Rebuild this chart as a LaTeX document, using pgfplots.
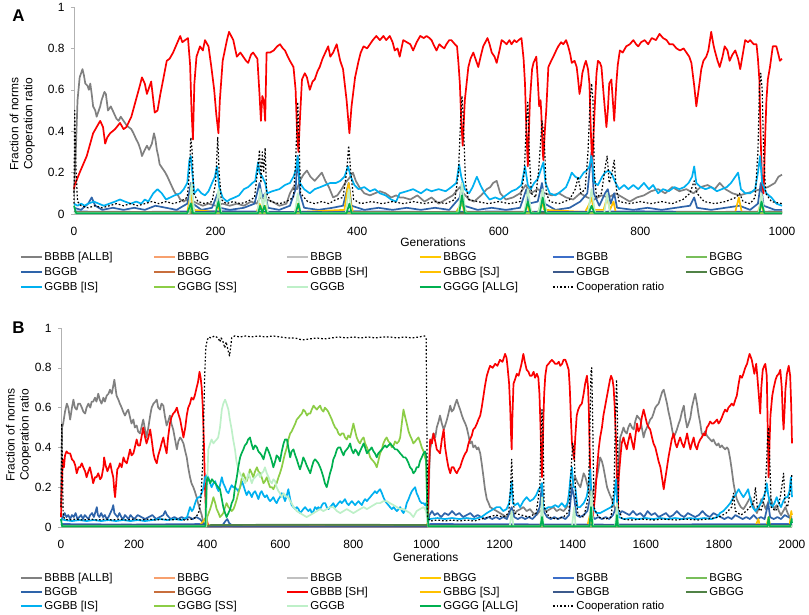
\documentclass[border=0pt]{standalone}
\usepackage{pgfplots}
\pgfplotsset{compat=1.18}
\usepackage{fontspec}
\setmainfont{Liberation Sans}
\definecolor{callb}{RGB}{128,128,128}
\definecolor{cbbbg}{RGB}{247,160,110}
\definecolor{cbbgb}{RGB}{192,192,192}
\definecolor{cbbgg}{RGB}{255,200,0}
\definecolor{cbgbb}{RGB}{60,110,200}
\definecolor{cbgbg}{RGB}{120,190,90}
\definecolor{cbggb}{RGB}{46,100,170}
\definecolor{cbggg}{RGB}{200,110,60}
\definecolor{csh}{RGB}{250,0,0}
\definecolor{csj}{RGB}{255,192,0}
\definecolor{cgbgb}{RGB}{60,90,140}
\definecolor{cgbgg}{RGB}{80,130,70}
\definecolor{cis}{RGB}{0,176,240}
\definecolor{css}{RGB}{140,205,70}
\definecolor{cgggb}{RGB}{190,240,200}
\definecolor{callg}{RGB}{0,176,80}
\newcommand\LE[1]{\makebox[107bp][l]{#1}}
\pgfplotsset{
  panel/.style={
    scale only axis, clip=false, no markers,
    axis x line*=bottom, axis y line*=left,
    axis line style={gray!60, line width=0.6bp},
    ymin=0, ymax=1, ytick={0,0.2,0.4,0.6,0.8,1},
    yticklabels={0,0.2,0.4,0.6,0.8,1},
    /pgf/number format/assume math mode=true,
    ytick style={gray!60, line width=0.6bp}, tick align=outside, major tick length=3bp,
    xtick style={draw=none},
    ticklabel style={font=\fontsize{12}{13}\selectfont},
    xticklabel style={yshift=-7bp},
    yticklabel style={xshift=-3bp},
    label style={font=\fontsize{12}{14}\selectfont},
    ylabel={Fraction of norms\\Cooperation ratio},
    xlabel={Generations},
    every axis plot/.append style={line width=1.7bp, line join=round},
    legend columns=6,
    legend image code/.code={\draw[##1, line width=2bp] (0bp,0bp) -- (21bp,0bp);},
    legend style={draw=none, fill=none, inner sep=0pt, outer sep=0pt,
      font=\fontsize{11.5}{12}\selectfont,
      nodes={inner xsep=1.5bp, inner ysep=0.5bp, anchor=west},
      /tikz/every even column/.append style={column sep=0pt}},
  },
}
\begin{document}
\begin{tikzpicture}
\path[use as bounding box] (0,0) rectangle (809bp,-615bp);
\node[font=\bfseries\fontsize{17}{17}\selectfont] at (18.5bp,-16bp) {A};
\node[font=\bfseries\fontsize{17}{17}\selectfont] at (18.5bp,-328bp) {B};
% ---------------- Panel A ----------------
\begin{axis}[panel, at={(74bp,-214bp)}, anchor=south west, width=708bp, height=207bp,
  xmin=0, xmax=1000, xtick={0,200,400,600,800,1000}, xticklabels={0,200,400,600,800,1000},
  ylabel style={at={(axis description cs:-0.073,0.435)}, anchor=center, align=center},
  xlabel style={at={(axis description cs:0.507,-0.136)}, anchor=center},
  legend style={at={(axis description cs:-0.0763,-0.183)}, anchor=north west, row sep=4bp}]
\addplot[callb] coordinates {(0,0.1)(3,0.35)(5,0.55)(8,0.66)(12,0.7)(14,0.67)(16,0.63)(19,0.62)(21,0.6)(23,0.63)(25,0.58)(27,0.52)(30,0.5)(32,0.47)(35,0.5)(37,0.52)(39,0.55)(41,0.57)(43,0.59)(45,0.58)(48,0.5)(52,0.52)(56,0.49)(60,0.46)(63,0.45)(66,0.47)(70,0.45)(74,0.43)(77,0.42)(81,0.41)(84,0.39)(88,0.36)(91,0.34)(94,0.31)(96,0.28)(100,0.31)(103,0.33)(106,0.31)(110,0.34)(113,0.39)(115,0.36)(117,0.31)(119,0.28)(121,0.24)(125,0.22)(129,0.2)(132,0.18)(136,0.15)(140,0.12)(143,0.1)(147,0.09)(150,0.07)(155,0.06)(159,0.07)(164,0.05)(169,0.06)(175,0.05)(182,0.04)(190,0.05)(200,0.04)(210,0.05)(220,0.04)(230,0.05)(240,0.04)(250,0.06)(258,0.05)(263,0.08)(272,0.07)(280,0.06)(290,0.04)(300,0.05)(305,0.1)(310,0.13)(315,0.12)(319,0.16)(324,0.19)(329,0.21)(334,0.18)(340,0.16)(345,0.18)(350,0.2)(355,0.16)(360,0.13)(366,0.08)(372,0.09)(378,0.12)(383,0.15)(388,0.17)(394,0.2)(398,0.16)(403,0.13)(410,0.1)(418,0.09)(425,0.1)(432,0.11)(440,0.1)(448,0.08)(455,0.09)(460,0.08)(465,0.08)(475,0.07)(485,0.09)(495,0.06)(505,0.08)(515,0.05)(525,0.07)(535,0.09)(545,0.13)(550,0.1)(558,0.07)(565,0.06)(575,0.09)(583,0.12)(588,0.13)(592,0.15)(597,0.16)(602,0.1)(610,0.07)(620,0.08)(630,0.1)(638,0.14)(645,0.1)(655,0.12)(665,0.1)(675,0.09)(685,0.1)(695,0.08)(705,0.07)(715,0.1)(725,0.08)(735,0.07)(745,0.09)(755,0.08)(765,0.1)(775,0.08)(785,0.06)(795,0.08)(805,0.09)(815,0.11)(825,0.12)(835,0.1)(845,0.13)(855,0.11)(865,0.12)(875,0.1)(885,0.13)(895,0.14)(905,0.12)(912,0.15)(920,0.12)(930,0.1)(940,0.09)(950,0.1)(960,0.11)(970,0.12)(980,0.13)(990,0.15)(995,0.18)(1000,0.19)};
\addlegendentry{\LE{BBBB [ALLB]}}
\addplot[cbbbg] coordinates {(0,0.004)(500,0.004)(1000,0.004)};
\addlegendentry{\LE{BBBG}}
\addplot[cbbgb] coordinates {(0,0.005)(500,0.005)(1000,0.005)};
\addlegendentry{\LE{BBGB}}
\addplot[cbbgg] coordinates {(0,0.006)(500,0.006)(1000,0.006)};
\addlegendentry{\LE{BBGG}}
\addplot[cbgbb] coordinates {(0,0.012)(100,0.01)(200,0.014)(300,0.01)(400,0.013)(500,0.01)(600,0.012)(700,0.01)(800,0.013)(900,0.01)(1000,0.012)};
\addlegendentry{\LE{BGBB}}
\addplot[cbgbg] coordinates {(0,0.004)(500,0.004)(1000,0.004)};
\addlegendentry{\LE{BGBG}}
\addplot[cbggb] coordinates {(0,0.03)(10,0.02)(20,0.05)(25,0.08)(30,0.04)(40,0.02)(55,0.03)(70,0.02)(85,0.03)(100,0.02)(115,0.04)(130,0.03)(145,0.02)(160,0.05)(165,0.15)(168,0.05)(180,0.02)(195,0.03)(203,0.1)(206,0.03)(220,0.02)(240,0.03)(255,0.05)(262,0.15)(266,0.08)(270,0.1)(274,0.03)(290,0.02)(305,0.04)(313,0.12)(316,0.28)(319,0.1)(325,0.03)(345,0.02)(365,0.03)(380,0.04)(388,0.15)(392,0.04)(410,0.02)(430,0.03)(450,0.02)(470,0.03)(490,0.02)(510,0.03)(530,0.02)(545,0.08)(548,0.15)(551,0.04)(570,0.02)(590,0.03)(610,0.02)(630,0.03)(639,0.12)(642,0.05)(655,0.06)(661,0.15)(665,0.05)(680,0.02)(700,0.03)(715,0.06)(725,0.1)(731,0.3)(734,0.1)(742,0.04)(750,0.1)(754,0.12)(758,0.05)(763,0.1)(767,0.03)(790,0.02)(810,0.03)(830,0.02)(850,0.03)(870,0.04)(876,0.08)(880,0.03)(900,0.02)(920,0.03)(940,0.04)(955,0.02)(966,0.05)(970,0.15)(974,0.04)(990,0.02)(1000,0.02)};
\addlegendentry{\LE{BGGB}}
\addplot[cbggg] coordinates {(0,0.004)(500,0.004)(1000,0.004)};
\addlegendentry{\LE{BGGG}}
\addplot[csh] coordinates {(0,0.12)(1,0.14)(8,0.2)(18,0.28)(27,0.39)(32,0.42)(37,0.45)(41,0.42)(44,0.34)(47,0.37)(51,0.39)(58,0.41)(65,0.44)(70,0.41)(74,0.42)(81,0.47)(85,0.52)(89,0.57)(93,0.62)(96,0.66)(100,0.63)(103,0.58)(105,0.6)(109,0.64)(112,0.55)(114,0.49)(118,0.5)(122,0.58)(126,0.65)(131,0.74)(135,0.75)(140,0.78)(145,0.82)(150,0.86)(153,0.83)(157,0.84)(161,0.85)(164,0.72)(166,0.5)(168,0.36)(170,0.63)(173,0.76)(178,0.81)(182,0.79)(185,0.84)(190,0.81)(194,0.71)(198,0.6)(201,0.48)(204,0.39)(206,0.55)(210,0.74)(216,0.84)(219,0.88)(225,0.84)(230,0.76)(235,0.78)(239,0.76)(243,0.74)(246,0.73)(250,0.77)(253,0.78)(259,0.75)(262,0.58)(264,0.45)(266,0.57)(268,0.55)(270,0.45)(272,0.78)(277,0.78)(282,0.79)(287,0.81)(291,0.82)(295,0.8)(298,0.79)(302,0.76)(305,0.74)(310,0.71)(313,0.6)(315,0.4)(317,0.3)(319,0.45)(322,0.65)(326,0.68)(329,0.66)(333,0.6)(337,0.64)(340,0.65)(344,0.69)(347,0.71)(351,0.75)(355,0.78)(359,0.81)(362,0.76)(366,0.78)(371,0.82)(376,0.74)(380,0.7)(385,0.55)(389,0.39)(392,0.52)(397,0.66)(402,0.74)(405,0.78)(409,0.81)(414,0.8)(418,0.82)(422,0.84)(427,0.86)(432,0.84)(437,0.86)(441,0.84)(446,0.86)(450,0.83)(453,0.79)(457,0.8)(460,0.76)(465,0.84)(470,0.83)(475,0.82)(479,0.79)(484,0.83)(489,0.86)(494,0.85)(498,0.86)(502,0.85)(505,0.84)(509,0.81)(512,0.79)(516,0.82)(519,0.81)(523,0.8)(526,0.82)(530,0.84)(533,0.84)(538,0.82)(541,0.81)(543,0.73)(545,0.63)(547,0.45)(549,0.33)(552,0.55)(557,0.71)(560,0.75)(564,0.78)(568,0.74)(571,0.71)(575,0.77)(578,0.81)(584,0.85)(587,0.82)(590,0.78)(594,0.76)(597,0.73)(601,0.79)(604,0.84)(608,0.83)(611,0.82)(615,0.84)(618,0.82)(622,0.84)(625,0.83)(628,0.84)(632,0.85)(635,0.75)(637,0.63)(639,0.4)(641,0.23)(643,0.45)(644,0.55)(647,0.7)(649,0.73)(653,0.76)(655,0.65)(657,0.52)(659,0.55)(660,0.49)(662,0.3)(663,0.26)(665,0.4)(667,0.5)(670,0.71)(674,0.74)(677,0.76)(681,0.79)(684,0.81)(688,0.83)(691,0.82)(695,0.84)(698,0.81)(701,0.77)(703,0.73)(707,0.74)(710,0.71)(712,0.65)(714,0.58)(716,0.62)(718,0.68)(721,0.72)(723,0.74)(726,0.7)(728,0.63)(730,0.4)(732,0.23)(734,0.4)(736,0.55)(738,0.68)(740,0.74)(743,0.73)(745,0.71)(748,0.58)(750,0.5)(752,0.42)(754,0.5)(756,0.63)(759,0.65)(761,0.55)(763,0.45)(766,0.63)(768,0.72)(771,0.79)(775,0.78)(780,0.81)(785,0.82)(790,0.84)(794,0.82)(797,0.81)(801,0.83)(806,0.84)(811,0.82)(816,0.85)(822,0.84)(827,0.87)(832,0.85)(837,0.84)(841,0.82)(846,0.82)(851,0.8)(856,0.79)(861,0.8)(865,0.78)(869,0.76)(872,0.73)(876,0.62)(879,0.52)(883,0.62)(886,0.7)(889,0.74)(893,0.76)(896,0.79)(900,0.88)(903,0.82)(905,0.79)(909,0.74)(912,0.71)(916,0.76)(919,0.81)(923,0.79)(926,0.74)(930,0.77)(934,0.79)(938,0.75)(941,0.7)(945,0.78)(948,0.84)(952,0.83)(955,0.84)(960,0.82)(964,0.82)(966,0.75)(968,0.65)(970,0.35)(972,0.15)(974,0.1)(976,0.35)(978,0.55)(980,0.65)(983,0.71)(987,0.81)(992,0.81)(995,0.77)(997,0.74)(1000,0.75)};
\addlegendentry{\LE{GBBB [SH]}}
\addplot[csj] coordinates {(0,0.01)(160,0.01)(164,0.08)(166,0.1)(168,0.02)(200,0.01)(203,0.05)(206,0.01)(258,0.01)(262,0.05)(266,0.02)(270,0.04)(273,0.01)(312,0.01)(316,0.05)(319,0.01)(382,0.02)(386,0.12)(388,0.15)(391,0.05)(394,0.01)(540,0.01)(545,0.04)(548,0.06)(551,0.01)(636,0.01)(640,0.05)(643,0.01)(657,0.01)(661,0.06)(664,0.02)(722,0.01)(728,0.05)(731,0.08)(734,0.02)(748,0.02)(753,0.08)(757,0.02)(762,0.06)(765,0.01)(934,0.01)(939,0.08)(943,0.01)(966,0.01)(970,0.05)(974,0.01)(1000,0.01)};
\addlegendentry{\LE{GBBG [SJ]}}
\addplot[cgbgb] coordinates {(0,0.008)(250,0.01)(500,0.008)(750,0.01)(1000,0.008)};
\addlegendentry{\LE{GBGB}}
\addplot[cgbgg] coordinates {(0,0.004)(500,0.004)(1000,0.004)};
\addlegendentry{\LE{GBGG}}
\addplot[cis] coordinates {(0,0.05)(5,0.04)(10,0.05)(15,0.04)(20,0.05)(28,0.06)(35,0.05)(42,0.04)(50,0.05)(58,0.06)(65,0.07)(72,0.06)(80,0.05)(88,0.06)(95,0.05)(100,0.07)(105,0.06)(112,0.1)(118,0.12)(124,0.1)(130,0.07)(136,0.08)(142,0.09)(150,0.1)(155,0.12)(160,0.15)(163,0.26)(165,0.28)(167,0.2)(170,0.1)(175,0.12)(180,0.1)(185,0.09)(190,0.11)(195,0.15)(199,0.18)(202,0.23)(205,0.13)(210,0.08)(216,0.06)(220,0.07)(227,0.08)(233,0.09)(240,0.12)(246,0.13)(252,0.15)(256,0.16)(260,0.25)(262,0.2)(266,0.18)(270,0.15)(273,0.1)(280,0.11)(290,0.12)(298,0.14)(305,0.15)(310,0.18)(314,0.22)(316,0.28)(319,0.15)(325,0.12)(333,0.1)(340,0.12)(348,0.13)(355,0.14)(362,0.15)(370,0.15)(376,0.16)(382,0.18)(387,0.23)(391,0.18)(396,0.14)(402,0.12)(410,0.13)(418,0.11)(425,0.12)(432,0.1)(440,0.09)(448,0.07)(455,0.06)(460,0.1)(470,0.11)(479,0.12)(490,0.1)(498,0.12)(505,0.11)(515,0.12)(525,0.11)(533,0.13)(540,0.15)(544,0.24)(547,0.18)(552,0.12)(558,0.1)(563,0.13)(569,0.18)(574,0.14)(580,0.1)(587,0.07)(595,0.08)(602,0.07)(610,0.09)(618,0.11)(625,0.12)(632,0.14)(637,0.23)(641,0.14)(645,0.12)(650,0.15)(655,0.17)(660,0.22)(663,0.25)(666,0.15)(672,0.1)(680,0.09)(688,0.11)(695,0.13)(700,0.17)(703,0.2)(708,0.18)(714,0.17)(720,0.2)(724,0.21)(728,0.23)(731,0.28)(735,0.15)(740,0.14)(746,0.18)(750,0.2)(755,0.21)(760,0.19)(765,0.15)(770,0.12)(777,0.14)(783,0.12)(790,0.14)(797,0.12)(805,0.15)(812,0.12)(818,0.14)(825,0.1)(832,0.12)(840,0.11)(848,0.13)(855,0.12)(862,0.13)(868,0.15)(873,0.18)(876,0.23)(879,0.15)(885,0.13)(892,0.12)(900,0.13)(908,0.11)(915,0.12)(922,0.13)(928,0.15)(934,0.18)(938,0.2)(942,0.12)(948,0.1)(955,0.1)(962,0.12)(966,0.2)(969,0.28)(972,0.15)(978,0.1)(985,0.08)(992,0.05)(1000,0.04)};
\addlegendentry{\LE{GGBB [IS]}}
\addplot[css] coordinates {(0,0.005)(164,0.005)(167,0.05)(170,0.005)(540,0.005)(548,0.05)(555,0.005)(655,0.005)(662,0.07)(668,0.005)(1000,0.005)};
\addlegendentry{\LE{GGBG [SS]}}
\addplot[cgggb] coordinates {(0,0.005)(162,0.005)(166,0.15)(170,0.005)(200,0.005)(204,0.12)(208,0.005)(259,0.005)(263,0.12)(267,0.03)(270,0.1)(274,0.005)(312,0.005)(316,0.1)(320,0.005)(384,0.005)(388,0.12)(392,0.005)(543,0.005)(548,0.15)(553,0.005)(636,0.005)(641,0.12)(646,0.005)(656,0.005)(662,0.12)(667,0.005)(726,0.005)(731,0.12)(736,0.005)(749,0.005)(753,0.1)(757,0.005)(967,0.005)(971,0.1)(975,0.005)(1000,0.005)};
\addlegendentry{\LE{GGGB}}
\addplot[callg] coordinates {(0,0.04)(3,0.004)(160,0.004)(165,0.05)(168,0.004)(200,0.004)(204,0.06)(207,0.004)(260,0.004)(263,0.04)(266,0.004)(269,0.04)(272,0.004)(313,0.004)(317,0.05)(320,0.004)(385,0.004)(389,0.05)(392,0.004)(544,0.004)(548,0.09)(552,0.004)(637,0.004)(641,0.06)(645,0.004)(658,0.004)(662,0.08)(666,0.004)(727,0.004)(731,0.04)(735,0.004)(968,0.004)(971,0.06)(975,0.004)(1000,0.004)};
\addlegendentry{\LE{GGGG [ALLG]}}
\addplot[black, dotted, line width=1.2bp] coordinates {(0,0.05)(1,0.5)(3,0.2)(5,0.06)(10,0.04)(20,0.03)(30,0.04)(40,0.03)(50,0.04)(60,0.05)(70,0.04)(80,0.05)(90,0.04)(100,0.05)(110,0.06)(120,0.05)(130,0.06)(140,0.05)(150,0.06)(160,0.08)(163,0.2)(165,0.37)(167,0.3)(169,0.1)(175,0.06)(185,0.05)(195,0.06)(200,0.15)(203,0.37)(205,0.2)(208,0.07)(215,0.05)(225,0.06)(235,0.05)(245,0.06)(255,0.08)(259,0.2)(262,0.31)(264,0.15)(266,0.3)(268,0.2)(270,0.32)(272,0.1)(278,0.06)(290,0.05)(300,0.06)(310,0.08)(313,0.25)(316,0.54)(318,0.35)(320,0.1)(330,0.06)(340,0.05)(350,0.06)(360,0.05)(370,0.07)(380,0.08)(385,0.2)(388,0.33)(391,0.2)(395,0.07)(405,0.05)(420,0.06)(435,0.05)(450,0.06)(465,0.05)(480,0.06)(495,0.05)(510,0.06)(525,0.05)(538,0.07)(543,0.2)(546,0.45)(548,0.57)(550,0.45)(553,0.15)(557,0.07)(570,0.06)(585,0.05)(600,0.06)(615,0.05)(630,0.06)(636,0.2)(639,0.45)(641,0.54)(643,0.3)(646,0.1)(652,0.08)(656,0.2)(659,0.35)(661,0.45)(663,0.4)(665,0.3)(667,0.1)(672,0.06)(685,0.05)(700,0.07)(708,0.12)(712,0.18)(716,0.1)(722,0.12)(726,0.3)(729,0.55)(731,0.63)(733,0.55)(735,0.2)(738,0.08)(745,0.1)(750,0.22)(753,0.28)(756,0.15)(760,0.2)(763,0.26)(766,0.12)(770,0.06)(785,0.05)(800,0.06)(815,0.05)(830,0.06)(845,0.05)(860,0.07)(870,0.1)(876,0.16)(880,0.1)(890,0.06)(905,0.05)(920,0.06)(935,0.08)(940,0.1)(945,0.06)(955,0.05)(962,0.08)(966,0.3)(968,0.6)(970,0.68)(972,0.6)(974,0.3)(977,0.1)(985,0.06)(1000,0.05)};
\addlegendentry{\LE{Cooperation ratio}}
\end{axis}
% ---------------- Panel B ----------------
\begin{axis}[panel, at={(61bp,-527bp)}, anchor=south west, width=731bp, height=199bp,
  xmin=0, xmax=2000, xtick={0,200,...,2000}, xticklabels={0,200,400,600,800,1000,1200,1400,1600,1800,2000},
  ylabel style={at={(axis description cs:-0.058,0.462)}, anchor=center, align=center},
  xlabel style={at={(axis description cs:0.499,-0.151)}, anchor=center},
  legend style={at={(axis description cs:-0.0561,-0.23)}, anchor=north west, row sep=3.2bp}]
\addplot[callb] coordinates {(0,0.1)(3,0.5)(6,0.52)(11,0.58)(16,0.62)(20,0.6)(25,0.54)(30,0.6)(34,0.64)(38,0.6)(43,0.59)(47,0.62)(52,0.62)(57,0.6)(61,0.58)(66,0.57)(70,0.6)(75,0.62)(80,0.6)(84,0.63)(88,0.63)(93,0.65)(97,0.63)(102,0.67)(106,0.64)(111,0.62)(116,0.65)(120,0.63)(125,0.66)(130,0.67)(134,0.69)(139,0.67)(143,0.71)(146,0.74)(149,0.7)(152,0.66)(157,0.64)(161,0.62)(166,0.6)(170,0.58)(175,0.56)(180,0.58)(184,0.59)(189,0.55)(193,0.52)(198,0.54)(202,0.5)(207,0.51)(211,0.48)(216,0.47)(220,0.5)(225,0.54)(229,0.5)(234,0.45)(239,0.5)(244,0.56)(248,0.6)(253,0.62)(258,0.63)(262,0.64)(266,0.6)(271,0.59)(275,0.62)(280,0.61)(284,0.56)(289,0.51)(293,0.53)(298,0.56)(302,0.52)(307,0.49)(312,0.44)(317,0.39)(321,0.43)(326,0.45)(330,0.44)(335,0.42)(340,0.38)(344,0.35)(348,0.3)(353,0.25)(357,0.22)(362,0.2)(366,0.18)(371,0.15)(375,0.12)(380,0.09)(385,0.06)(390,0.02)(395,0.004)(1004,0.004)(1008,0.3)(1010,0.39)(1015,0.44)(1019,0.47)(1024,0.45)(1028,0.5)(1033,0.53)(1037,0.56)(1042,0.52)(1047,0.49)(1051,0.51)(1056,0.54)(1060,0.57)(1065,0.61)(1069,0.58)(1074,0.59)(1079,0.62)(1083,0.64)(1088,0.61)(1092,0.59)(1097,0.56)(1101,0.54)(1106,0.52)(1110,0.5)(1115,0.46)(1119,0.42)(1124,0.43)(1128,0.4)(1133,0.41)(1138,0.39)(1142,0.4)(1147,0.37)(1151,0.32)(1156,0.25)(1160,0.19)(1165,0.14)(1170,0.12)(1174,0.1)(1183,0.09)(1192,0.08)(1201,0.07)(1210,0.06)(1219,0.05)(1228,0.07)(1238,0.06)(1247,0.08)(1257,0.09)(1265,0.1)(1274,0.08)(1283,0.09)(1292,0.07)(1301,0.06)(1310,0.08)(1320,0.09)(1329,0.08)(1338,0.09)(1347,0.1)(1356,0.08)(1365,0.09)(1375,0.08)(1384,0.1)(1393,0.2)(1400,0.22)(1407,0.25)(1414,0.22)(1421,0.2)(1430,0.27)(1435,0.25)(1439,0.22)(1446,0.17)(1452,0.15)(1458,0.2)(1466,0.25)(1471,0.3)(1475,0.35)(1480,0.33)(1484,0.3)(1489,0.25)(1494,0.2)(1500,0.17)(1507,0.14)(1514,0.1)(1521,0.07)(1525,0.3)(1530,0.45)(1534,0.47)(1539,0.5)(1543,0.48)(1548,0.47)(1552,0.5)(1557,0.52)(1562,0.5)(1567,0.49)(1571,0.53)(1576,0.56)(1580,0.55)(1585,0.54)(1589,0.5)(1594,0.45)(1598,0.48)(1603,0.5)(1608,0.52)(1612,0.54)(1617,0.55)(1621,0.57)(1626,0.6)(1630,0.61)(1635,0.62)(1640,0.65)(1645,0.68)(1649,0.69)(1653,0.66)(1658,0.62)(1662,0.58)(1667,0.54)(1671,0.5)(1676,0.45)(1681,0.47)(1685,0.49)(1690,0.52)(1694,0.54)(1699,0.58)(1704,0.61)(1708,0.55)(1713,0.5)(1717,0.52)(1722,0.55)(1726,0.6)(1731,0.64)(1735,0.67)(1740,0.62)(1744,0.57)(1749,0.52)(1753,0.47)(1758,0.46)(1762,0.48)(1767,0.46)(1771,0.45)(1776,0.44)(1781,0.43)(1785,0.44)(1790,0.42)(1794,0.41)(1799,0.42)(1803,0.4)(1808,0.41)(1812,0.4)(1817,0.39)(1822,0.4)(1826,0.39)(1831,0.34)(1835,0.29)(1840,0.22)(1845,0.17)(1849,0.14)(1854,0.12)(1860,0.1)(1867,0.09)(1874,0.11)(1880,0.13)(1886,0.15)(1892,0.12)(1898,0.09)(1904,0.07)(1910,0.1)(1916,0.14)(1922,0.12)(1928,0.09)(1934,0.12)(1940,0.15)(1946,0.12)(1952,0.09)(1958,0.11)(1964,0.08)(1970,0.06)(1976,0.08)(1982,0.1)(1988,0.07)(1994,0.05)(2000,0.05)};
\addlegendentry{\LE{BBBB [ALLB]}}
\addplot[cbbbg] coordinates {(0,0.004)(1000,0.004)(2000,0.004)};
\addlegendentry{\LE{BBBG}}
\addplot[cbbgb] coordinates {(0,0.005)(1000,0.005)(2000,0.005)};
\addlegendentry{\LE{BBGB}}
\addplot[cbbgg] coordinates {(0,0.006)(1000,0.006)(2000,0.006)};
\addlegendentry{\LE{BBGG}}
\addplot[cbgbb] coordinates {(0,0.015)(200,0.012)(390,0.015)(400,0.004)(1000,0.004)(1010,0.015)(1500,0.012)(2000,0.015)};
\addlegendentry{\LE{BGBB}}
\addplot[cbgbg] coordinates {(0,0.004)(1000,0.004)(2000,0.004)};
\addlegendentry{\LE{BGBG}}
\addplot[cbggb] coordinates {(0,0.03)(5,0.05)(10,0.07)(15,0.05)(20,0.06)(25,0.04)(30,0.06)(35,0.05)(40,0.07)(45,0.04)(50,0.05)(55,0.06)(60,0.04)(65,0.06)(70,0.05)(75,0.04)(80,0.06)(85,0.07)(90,0.05)(95,0.08)(98,0.1)(101,0.06)(105,0.05)(110,0.07)(115,0.05)(120,0.06)(125,0.04)(130,0.05)(135,0.07)(140,0.09)(143,0.11)(146,0.07)(150,0.06)(155,0.05)(160,0.07)(165,0.05)(170,0.04)(175,0.06)(180,0.05)(185,0.04)(190,0.06)(195,0.05)(200,0.04)(210,0.06)(220,0.05)(230,0.04)(240,0.05)(250,0.06)(260,0.04)(270,0.05)(280,0.06)(285,0.08)(290,0.06)(300,0.04)(310,0.05)(320,0.04)(330,0.05)(340,0.04)(350,0.05)(360,0.04)(370,0.05)(380,0.04)(390,0.02)(400,0.004)(440,0.004)(450,0.03)(455,0.04)(460,0.02)(470,0.004)(1003,0.004)(1008,0.06)(1015,0.08)(1022,0.06)(1030,0.07)(1040,0.05)(1050,0.07)(1060,0.06)(1070,0.08)(1080,0.06)(1090,0.07)(1100,0.05)(1110,0.06)(1120,0.07)(1130,0.05)(1140,0.06)(1150,0.05)(1160,0.04)(1170,0.05)(1180,0.04)(1190,0.05)(1200,0.04)(1210,0.05)(1220,0.04)(1233,0.1)(1240,0.05)(1250,0.04)(1260,0.05)(1270,0.04)(1280,0.05)(1290,0.04)(1300,0.06)(1310,0.1)(1316,0.22)(1320,0.08)(1330,0.05)(1340,0.04)(1350,0.05)(1360,0.04)(1370,0.05)(1380,0.04)(1390,0.06)(1398,0.2)(1404,0.15)(1410,0.06)(1420,0.05)(1430,0.06)(1440,0.08)(1448,0.15)(1453,0.06)(1460,0.04)(1470,0.05)(1480,0.04)(1490,0.05)(1500,0.04)(1510,0.06)(1519,0.1)(1525,0.06)(1535,0.08)(1545,0.07)(1555,0.06)(1565,0.08)(1575,0.06)(1585,0.07)(1595,0.05)(1605,0.08)(1615,0.06)(1625,0.07)(1635,0.05)(1645,0.06)(1655,0.07)(1665,0.05)(1675,0.06)(1685,0.08)(1695,0.06)(1705,0.05)(1715,0.07)(1725,0.06)(1735,0.05)(1745,0.06)(1755,0.08)(1765,0.06)(1775,0.05)(1785,0.07)(1795,0.06)(1805,0.05)(1815,0.04)(1825,0.05)(1835,0.04)(1845,0.06)(1855,0.05)(1865,0.04)(1875,0.05)(1885,0.04)(1895,0.06)(1905,0.04)(1915,0.05)(1925,0.04)(1935,0.12)(1940,0.05)(1950,0.04)(1960,0.05)(1970,0.04)(1980,0.06)(1990,0.05)(2000,0.04)};
\addlegendentry{\LE{BGGB}}
\addplot[cbggg] coordinates {(0,0.004)(1000,0.004)(2000,0.004)};
\addlegendentry{\LE{BGGG}}
\addplot[csh] coordinates {(0,0.05)(2,0.2)(5,0.34)(8,0.3)(11,0.36)(15,0.38)(20,0.37)(25,0.37)(30,0.34)(35,0.33)(39,0.31)(43,0.27)(48,0.3)(52,0.3)(57,0.32)(61,0.3)(66,0.28)(70,0.25)(75,0.28)(79,0.3)(84,0.26)(88,0.22)(93,0.25)(97,0.25)(102,0.27)(107,0.24)(111,0.25)(116,0.3)(118,0.35)(122,0.31)(127,0.28)(131,0.3)(135,0.32)(139,0.28)(143,0.25)(146,0.18)(148,0.15)(151,0.22)(154,0.29)(158,0.3)(161,0.32)(166,0.3)(171,0.35)(175,0.33)(180,0.32)(184,0.35)(189,0.39)(193,0.36)(198,0.37)(202,0.4)(207,0.44)(211,0.41)(216,0.41)(220,0.45)(225,0.5)(229,0.46)(234,0.42)(239,0.45)(244,0.49)(248,0.44)(253,0.37)(257,0.34)(262,0.32)(266,0.36)(271,0.39)(275,0.42)(280,0.45)(284,0.41)(289,0.37)(293,0.45)(298,0.52)(302,0.55)(307,0.57)(312,0.58)(317,0.6)(321,0.57)(326,0.54)(330,0.5)(335,0.45)(340,0.5)(344,0.56)(348,0.6)(353,0.62)(357,0.65)(362,0.64)(366,0.66)(371,0.7)(375,0.73)(379,0.78)(382,0.75)(385,0.7)(388,0.6)(391,0.42)(394,0.2)(397,0.05)(403,0.004)(1003,0.004)(1007,0.3)(1010,0.44)(1015,0.42)(1019,0.47)(1024,0.43)(1028,0.39)(1033,0.38)(1037,0.37)(1042,0.44)(1047,0.49)(1051,0.4)(1056,0.34)(1060,0.3)(1065,0.27)(1069,0.3)(1074,0.3)(1079,0.28)(1083,0.27)(1088,0.29)(1092,0.3)(1097,0.33)(1101,0.35)(1106,0.37)(1110,0.38)(1115,0.42)(1119,0.44)(1124,0.46)(1128,0.49)(1133,0.5)(1138,0.52)(1142,0.54)(1147,0.56)(1151,0.6)(1156,0.66)(1160,0.71)(1165,0.76)(1170,0.79)(1174,0.81)(1181,0.8)(1188,0.82)(1194,0.81)(1201,0.84)(1208,0.83)(1215,0.87)(1219,0.85)(1222,0.8)(1226,0.72)(1229,0.6)(1231,0.48)(1233,0.39)(1235,0.55)(1238,0.72)(1242,0.74)(1247,0.77)(1252,0.76)(1256,0.79)(1260,0.82)(1265,0.87)(1269,0.83)(1274,0.79)(1279,0.78)(1283,0.76)(1288,0.76)(1293,0.78)(1297,0.75)(1302,0.77)(1306,0.75)(1309,0.67)(1312,0.5)(1314,0.35)(1316,0.25)(1318,0.4)(1320,0.55)(1322,0.67)(1325,0.76)(1329,0.81)(1334,0.82)(1338,0.83)(1343,0.84)(1348,0.83)(1352,0.82)(1357,0.82)(1362,0.83)(1366,0.81)(1371,0.82)(1375,0.84)(1380,0.84)(1384,0.82)(1389,0.79)(1392,0.7)(1395,0.55)(1398,0.42)(1401,0.38)(1404,0.34)(1407,0.45)(1411,0.56)(1415,0.59)(1420,0.61)(1425,0.62)(1430,0.67)(1434,0.72)(1439,0.76)(1442,0.7)(1444,0.6)(1446,0.42)(1449,0.2)(1452,0.08)(1455,0.05)(1458,0.1)(1462,0.17)(1466,0.28)(1471,0.39)(1475,0.45)(1480,0.5)(1484,0.56)(1489,0.61)(1494,0.66)(1498,0.7)(1502,0.74)(1505,0.76)(1509,0.74)(1512,0.7)(1515,0.6)(1517,0.5)(1519,0.42)(1521,0.2)(1523,0.05)(1526,0.25)(1530,0.34)(1534,0.42)(1539,0.45)(1543,0.42)(1548,0.39)(1552,0.43)(1557,0.47)(1562,0.43)(1567,0.39)(1571,0.45)(1576,0.52)(1580,0.48)(1585,0.5)(1589,0.55)(1594,0.59)(1598,0.56)(1603,0.52)(1608,0.5)(1612,0.49)(1617,0.45)(1621,0.42)(1626,0.4)(1630,0.37)(1635,0.33)(1640,0.3)(1645,0.24)(1649,0.19)(1653,0.24)(1658,0.3)(1662,0.35)(1667,0.4)(1671,0.44)(1676,0.47)(1681,0.42)(1685,0.4)(1690,0.43)(1694,0.45)(1699,0.42)(1704,0.4)(1708,0.43)(1713,0.47)(1717,0.43)(1722,0.39)(1726,0.42)(1731,0.45)(1735,0.41)(1740,0.39)(1744,0.42)(1749,0.44)(1753,0.45)(1758,0.47)(1762,0.46)(1767,0.5)(1771,0.51)(1776,0.53)(1781,0.52)(1785,0.52)(1790,0.53)(1795,0.54)(1799,0.52)(1803,0.53)(1808,0.55)(1812,0.57)(1817,0.59)(1822,0.58)(1826,0.6)(1831,0.61)(1835,0.62)(1840,0.61)(1845,0.64)(1849,0.66)(1854,0.72)(1858,0.76)(1863,0.75)(1867,0.77)(1872,0.8)(1877,0.82)(1881,0.85)(1884,0.87)(1888,0.85)(1890,0.84)(1894,0.8)(1897,0.77)(1900,0.8)(1902,0.82)(1905,0.76)(1908,0.69)(1911,0.62)(1913,0.57)(1916,0.7)(1920,0.79)(1924,0.81)(1927,0.82)(1931,0.76)(1933,0.55)(1936,0.25)(1939,0.45)(1941,0.56)(1946,0.66)(1950,0.7)(1955,0.74)(1959,0.76)(1964,0.77)(1968,0.79)(1972,0.7)(1975,0.55)(1977,0.49)(1980,0.6)(1982,0.69)(1986,0.77)(1991,0.81)(1995,0.76)(1998,0.6)(2000,0.42)};
\addlegendentry{\LE{GBBB [SH]}}
\addplot[csj] coordinates {(0,0.01)(380,0.01)(390,0.03)(397,0.05)(400,0.008)(1000,0.008)(1003,0.02)(1008,0.005)(1310,0.005)(1316,0.04)(1320,0.005)(1440,0.005)(1447,0.06)(1452,0.005)(1900,0.005)(1908,0.04)(1912,0.005)(1930,0.005)(1936,0.05)(1940,0.005)(1993,0.005)(1998,0.08)(2000,0.06)};
\addlegendentry{\LE{GBBG [SJ]}}
\addplot[cgbgb] coordinates {(0,0.01)(390,0.012)(400,0.004)(1000,0.004)(1010,0.01)(2000,0.01)};
\addlegendentry{\LE{GBGB}}
\addplot[cgbgg] coordinates {(0,0.004)(400,0.004)(410,0.01)(700,0.012)(1000,0.01)(1005,0.004)(2000,0.004)};
\addlegendentry{\LE{GBGG}}
\addplot[cis] coordinates {(0,0.04)(10,0.035)(30,0.03)(50,0.035)(70,0.03)(90,0.035)(110,0.03)(130,0.035)(150,0.03)(170,0.035)(190,0.03)(210,0.035)(230,0.03)(250,0.035)(270,0.04)(290,0.035)(310,0.04)(330,0.035)(345,0.05)(353,0.1)(358,0.08)(362,0.09)(367,0.12)(371,0.14)(376,0.15)(380,0.15)(385,0.17)(390,0.2)(394,0.25)(399,0.26)(403,0.25)(408,0.22)(412,0.2)(417,0.22)(422,0.23)(426,0.2)(431,0.18)(435,0.21)(440,0.25)(444,0.22)(449,0.2)(453,0.18)(458,0.17)(462,0.19)(467,0.21)(471,0.2)(476,0.2)(481,0.19)(485,0.18)(490,0.2)(495,0.23)(499,0.21)(504,0.18)(508,0.16)(513,0.18)(517,0.17)(522,0.15)(526,0.17)(531,0.18)(536,0.16)(540,0.14)(545,0.17)(549,0.18)(554,0.16)(558,0.15)(563,0.16)(568,0.14)(572,0.13)(577,0.14)(581,0.15)(586,0.13)(590,0.12)(595,0.14)(599,0.15)(604,0.17)(609,0.15)(613,0.13)(618,0.16)(622,0.19)(627,0.14)(631,0.11)(636,0.1)(641,0.09)(645,0.1)(650,0.09)(654,0.07)(659,0.08)(663,0.09)(668,0.1)(672,0.09)(677,0.08)(682,0.09)(686,0.07)(691,0.08)(695,0.1)(700,0.09)(704,0.1)(709,0.09)(714,0.11)(718,0.12)(723,0.12)(727,0.1)(732,0.09)(736,0.1)(741,0.11)(745,0.12)(750,0.1)(755,0.11)(759,0.12)(764,0.13)(768,0.12)(773,0.13)(777,0.14)(782,0.12)(787,0.11)(791,0.12)(796,0.13)(800,0.12)(805,0.11)(809,0.12)(814,0.13)(818,0.12)(823,0.11)(828,0.13)(832,0.14)(837,0.13)(841,0.14)(846,0.15)(850,0.16)(855,0.17)(859,0.18)(864,0.17)(868,0.18)(873,0.19)(878,0.17)(882,0.15)(887,0.13)(891,0.12)(896,0.11)(900,0.1)(905,0.09)(910,0.1)(914,0.09)(919,0.08)(924,0.09)(928,0.1)(933,0.08)(937,0.07)(942,0.09)(946,0.12)(951,0.14)(955,0.16)(960,0.18)(964,0.19)(969,0.2)(973,0.17)(978,0.15)(982,0.13)(987,0.12)(992,0.12)(996,0.11)(999,0.12)(1002,0.05)(1008,0.04)(1030,0.045)(1050,0.04)(1070,0.045)(1090,0.04)(1110,0.045)(1130,0.04)(1150,0.05)(1165,0.07)(1174,0.08)(1183,0.09)(1192,0.1)(1201,0.1)(1210,0.08)(1219,0.09)(1226,0.12)(1230,0.18)(1233,0.23)(1236,0.12)(1242,0.11)(1250,0.12)(1256,0.1)(1265,0.13)(1274,0.15)(1283,0.13)(1292,0.14)(1300,0.16)(1307,0.19)(1311,0.2)(1316,0.22)(1319,0.1)(1325,0.09)(1334,0.1)(1343,0.1)(1352,0.11)(1361,0.1)(1370,0.12)(1379,0.1)(1386,0.12)(1389,0.15)(1394,0.25)(1398,0.3)(1402,0.2)(1407,0.2)(1413,0.1)(1420,0.1)(1430,0.12)(1438,0.15)(1443,0.2)(1448,0.29)(1452,0.12)(1457,0.09)(1465,0.07)(1475,0.07)(1485,0.08)(1495,0.09)(1505,0.1)(1512,0.12)(1516,0.2)(1519,0.24)(1522,0.1)(1526,0.05)(1540,0.04)(1560,0.045)(1580,0.04)(1600,0.045)(1620,0.04)(1640,0.045)(1660,0.04)(1680,0.045)(1700,0.04)(1720,0.045)(1740,0.04)(1760,0.045)(1780,0.04)(1795,0.05)(1803,0.07)(1812,0.08)(1822,0.1)(1831,0.12)(1840,0.15)(1845,0.16)(1854,0.19)(1860,0.17)(1867,0.15)(1874,0.17)(1880,0.19)(1886,0.14)(1892,0.1)(1900,0.08)(1908,0.1)(1915,0.12)(1922,0.15)(1928,0.18)(1931,0.22)(1935,0.16)(1940,0.12)(1946,0.1)(1952,0.12)(1958,0.15)(1964,0.12)(1970,0.1)(1976,0.13)(1982,0.15)(1988,0.15)(1993,0.18)(1997,0.25)(2000,0.15)};
\addlegendentry{\LE{GGBB [IS]}}
\addplot[css] coordinates {(0,0.004)(398,0.004)(400,0.05)(404,0.07)(408,0.09)(413,0.12)(417,0.15)(422,0.12)(426,0.09)(431,0.07)(435,0.05)(440,0.06)(444,0.07)(449,0.1)(453,0.12)(458,0.1)(463,0.09)(467,0.08)(472,0.09)(476,0.11)(481,0.14)(485,0.17)(490,0.2)(494,0.24)(499,0.27)(503,0.25)(508,0.23)(513,0.26)(517,0.29)(522,0.27)(526,0.25)(531,0.28)(536,0.3)(540,0.28)(545,0.27)(549,0.25)(554,0.22)(558,0.23)(563,0.25)(568,0.22)(572,0.2)(577,0.2)(581,0.19)(586,0.21)(590,0.22)(595,0.25)(599,0.27)(604,0.3)(609,0.34)(613,0.37)(618,0.4)(622,0.44)(627,0.47)(631,0.48)(636,0.5)(641,0.52)(645,0.54)(650,0.55)(654,0.56)(659,0.57)(663,0.59)(668,0.58)(673,0.56)(677,0.57)(682,0.57)(686,0.59)(691,0.61)(695,0.6)(700,0.59)(704,0.6)(709,0.61)(713,0.59)(718,0.58)(722,0.6)(727,0.59)(731,0.58)(736,0.56)(741,0.54)(745,0.52)(750,0.5)(755,0.49)(759,0.47)(764,0.46)(768,0.47)(773,0.47)(777,0.45)(782,0.44)(786,0.46)(791,0.45)(795,0.48)(800,0.52)(805,0.48)(809,0.45)(814,0.43)(818,0.42)(823,0.44)(828,0.45)(832,0.42)(837,0.4)(841,0.38)(846,0.35)(850,0.34)(855,0.33)(859,0.32)(864,0.3)(868,0.33)(873,0.37)(878,0.39)(882,0.42)(887,0.44)(891,0.45)(896,0.43)(901,0.42)(905,0.4)(910,0.41)(914,0.43)(919,0.42)(924,0.43)(928,0.45)(933,0.53)(937,0.59)(942,0.55)(946,0.52)(951,0.48)(955,0.46)(960,0.44)(964,0.42)(969,0.43)(973,0.44)(978,0.45)(982,0.43)(987,0.4)(992,0.38)(996,0.35)(999,0.33)(1002,0.1)(1005,0.004)(2000,0.004)};
\addlegendentry{\LE{GGBG [SS]}}
\addplot[cgggb] coordinates {(0,0.004)(397,0.004)(399,0.15)(403,0.39)(408,0.42)(412,0.44)(417,0.42)(421,0.43)(426,0.44)(430,0.45)(435,0.5)(440,0.59)(444,0.62)(449,0.64)(453,0.62)(458,0.59)(462,0.54)(467,0.49)(471,0.44)(476,0.39)(480,0.33)(485,0.29)(490,0.27)(495,0.25)(499,0.24)(504,0.22)(508,0.24)(513,0.27)(517,0.25)(522,0.22)(526,0.24)(531,0.25)(536,0.26)(540,0.27)(545,0.25)(549,0.27)(554,0.28)(558,0.3)(563,0.27)(568,0.25)(572,0.23)(577,0.22)(581,0.24)(586,0.23)(590,0.2)(595,0.18)(599,0.17)(604,0.15)(609,0.17)(613,0.16)(618,0.15)(622,0.15)(627,0.13)(631,0.12)(636,0.1)(641,0.09)(645,0.08)(654,0.07)(663,0.06)(672,0.05)(682,0.06)(691,0.07)(700,0.08)(709,0.09)(718,0.08)(727,0.09)(736,0.1)(745,0.1)(755,0.08)(764,0.07)(773,0.08)(782,0.09)(791,0.08)(800,0.07)(809,0.08)(818,0.09)(828,0.1)(837,0.09)(846,0.1)(855,0.11)(864,0.12)(873,0.12)(882,0.13)(891,0.13)(900,0.12)(910,0.11)(919,0.1)(928,0.09)(937,0.09)(946,0.08)(955,0.07)(964,0.05)(973,0.08)(982,0.09)(992,0.1)(999,0.08)(1002,0.03)(1005,0.004)(1228,0.004)(1233,0.08)(1238,0.004)(1312,0.004)(1316,0.15)(1320,0.004)(1398,0.004)(1404,0.1)(1408,0.004)(1446,0.004)(1451,0.18)(1456,0.004)(1516,0.004)(1521,0.12)(1525,0.004)(2000,0.004)};
\addlegendentry{\LE{GGGB}}
\addplot[callg] coordinates {(0,0.04)(3,0.004)(395,0.004)(398,0.2)(400,0.25)(404,0.24)(408,0.22)(413,0.24)(417,0.23)(422,0.22)(426,0.21)(430,0.2)(435,0.19)(440,0.14)(444,0.1)(449,0.07)(453,0.05)(458,0.07)(463,0.09)(467,0.12)(472,0.14)(476,0.2)(481,0.25)(485,0.3)(490,0.35)(494,0.37)(499,0.39)(503,0.41)(508,0.42)(512,0.44)(517,0.45)(521,0.42)(526,0.39)(531,0.41)(536,0.4)(540,0.38)(545,0.37)(549,0.36)(554,0.34)(558,0.37)(563,0.4)(568,0.38)(572,0.36)(577,0.33)(581,0.3)(586,0.33)(590,0.36)(595,0.35)(599,0.33)(604,0.38)(609,0.42)(613,0.44)(618,0.44)(622,0.4)(627,0.35)(631,0.38)(636,0.39)(641,0.36)(645,0.34)(650,0.31)(654,0.29)(659,0.32)(663,0.35)(668,0.33)(672,0.31)(677,0.29)(682,0.27)(686,0.3)(691,0.33)(695,0.34)(700,0.33)(704,0.32)(709,0.3)(713,0.28)(718,0.25)(722,0.22)(727,0.2)(731,0.23)(736,0.27)(741,0.3)(745,0.34)(750,0.36)(755,0.39)(759,0.4)(764,0.4)(768,0.38)(773,0.36)(777,0.38)(782,0.39)(786,0.4)(791,0.42)(795,0.39)(800,0.37)(805,0.39)(809,0.38)(814,0.36)(818,0.38)(823,0.4)(828,0.42)(832,0.4)(837,0.37)(841,0.38)(846,0.39)(850,0.4)(855,0.38)(859,0.37)(864,0.35)(868,0.37)(873,0.38)(878,0.39)(882,0.4)(887,0.41)(891,0.4)(896,0.41)(901,0.42)(905,0.41)(910,0.4)(914,0.39)(919,0.39)(924,0.38)(928,0.37)(933,0.36)(937,0.35)(942,0.35)(946,0.34)(951,0.32)(955,0.3)(960,0.29)(964,0.27)(969,0.28)(973,0.3)(978,0.3)(982,0.33)(987,0.35)(992,0.37)(996,0.38)(999,0.36)(1002,0.1)(1005,0.004)(1312,0.004)(1316,0.05)(1320,0.004)(1446,0.004)(1450,0.1)(1454,0.004)(1518,0.004)(1521,0.06)(1524,0.004)(1933,0.004)(1936,0.05)(1939,0.004)(1995,0.004)(1999,0.04)(2000,0.02)};
\addlegendentry{\LE{GGGG [ALLG]}}
\addplot[black, dotted, line width=1.2bp] coordinates {(0,0.1)(2,0.52)(4,0.3)(6,0.06)(10,0.04)(20,0.035)(40,0.04)(60,0.035)(80,0.04)(100,0.035)(120,0.04)(140,0.035)(160,0.04)(180,0.035)(200,0.04)(220,0.035)(240,0.04)(260,0.035)(280,0.04)(300,0.035)(320,0.04)(340,0.035)(360,0.04)(370,0.05)(378,0.08)(383,0.15)(387,0.3)(390,0.5)(393,0.75)(396,0.9)(400,0.94)(405,0.955)(410,0.95)(420,0.96)(430,0.95)(435,0.93)(438,0.95)(442,0.94)(448,0.9)(452,0.93)(458,0.88)(461,0.86)(464,0.9)(467,0.95)(475,0.96)(490,0.955)(505,0.96)(520,0.955)(540,0.96)(560,0.955)(580,0.96)(600,0.955)(620,0.95)(640,0.95)(660,0.94)(680,0.945)(700,0.95)(720,0.945)(740,0.95)(760,0.955)(780,0.95)(800,0.955)(820,0.95)(840,0.955)(860,0.95)(880,0.955)(900,0.955)(920,0.95)(940,0.955)(960,0.95)(980,0.955)(995,0.96)(999,0.95)(1001,0.5)(1003,0.05)(1010,0.03)(1030,0.035)(1050,0.03)(1070,0.035)(1090,0.03)(1110,0.035)(1130,0.03)(1150,0.04)(1170,0.05)(1190,0.06)(1210,0.05)(1225,0.07)(1230,0.2)(1233,0.34)(1236,0.2)(1240,0.07)(1260,0.06)(1280,0.05)(1300,0.07)(1310,0.2)(1313,0.45)(1316,0.59)(1319,0.45)(1322,0.1)(1335,0.05)(1355,0.04)(1375,0.05)(1390,0.08)(1396,0.3)(1400,0.42)(1404,0.38)(1408,0.15)(1415,0.06)(1430,0.05)(1443,0.15)(1447,0.5)(1450,0.78)(1452,0.8)(1455,0.5)(1458,0.1)(1470,0.05)(1490,0.04)(1505,0.05)(1513,0.2)(1517,0.55)(1520,0.74)(1522,0.6)(1525,0.1)(1535,0.04)(1560,0.035)(1590,0.04)(1620,0.035)(1650,0.04)(1680,0.035)(1710,0.04)(1740,0.035)(1770,0.04)(1800,0.05)(1820,0.07)(1835,0.1)(1840,0.17)(1845,0.08)(1860,0.06)(1875,0.08)(1885,0.1)(1895,0.12)(1900,0.2)(1905,0.1)(1915,0.08)(1925,0.15)(1930,0.3)(1933,0.45)(1936,0.5)(1939,0.35)(1943,0.1)(1955,0.08)(1965,0.12)(1972,0.2)(1977,0.27)(1981,0.12)(1988,0.1)(1995,0.18)(2000,0.27)};
\addlegendentry{\LE{Cooperation ratio}}
\end{axis}
\end{tikzpicture}
\end{document}
